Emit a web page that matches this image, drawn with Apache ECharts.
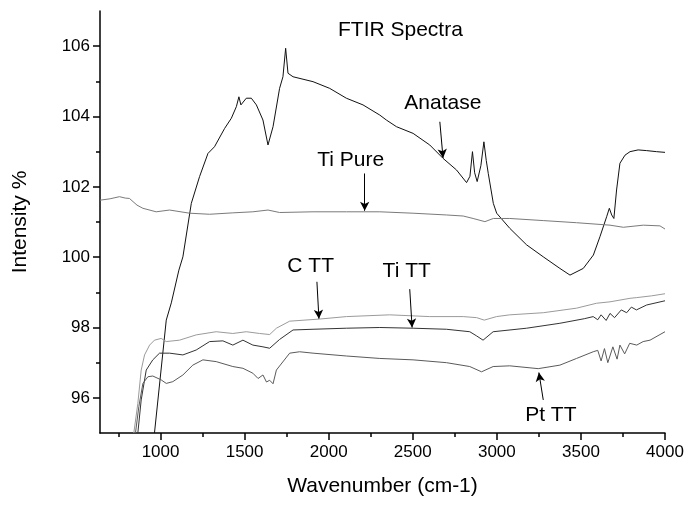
<!DOCTYPE html>
<html>
<head>
<meta charset="utf-8">
<script src="https://cdn.jsdelivr.net/npm/echarts@6.0.0/dist/echarts.min.js"></script>
<style>
  html, body { margin: 0; padding: 0; background: #fff; }
  #chart { width: 688px; height: 507px; }
</style>
</head>
<body>
<div id="chart"></div>
<script>
// values: [wavenumber, intensity %]
const anatasePts = [
  [964, 95.0], [1034, 98.21], [1064, 98.7], [1109, 99.63], [1133, 100.01], [1183, 101.53],
  [1232, 102.29], [1282, 102.95], [1321, 103.14], [1381, 103.66], [1421, 103.95], [1451, 104.28],
  [1466, 104.56], [1478, 104.33], [1510, 104.52], [1540, 104.52], [1570, 104.33], [1609, 103.9],
  [1639, 103.19], [1669, 103.71], [1708, 104.8], [1728, 105.13], [1744, 105.94], [1758, 105.23],
  [1788, 105.13], [1907, 104.99], [2006, 104.8], [2105, 104.52], [2204, 104.33], [2304, 104.04],
  [2343, 103.9], [2403, 103.71], [2502, 103.52], [2601, 103.19], [2680, 102.81], [2760, 102.48],
  [2820, 102.12], [2840, 102.3], [2855, 103.0], [2868, 102.4], [2883, 102.15], [2905, 102.6],
  [2923, 103.28], [2937, 102.75], [2949, 102.38], [2979, 101.53], [2999, 101.25], [3077, 100.82],
  [3177, 100.35], [3276, 100.01], [3375, 99.68], [3435, 99.49], [3514, 99.68], [3574, 100.06],
  [3613, 100.58], [3653, 101.15], [3669, 101.39], [3683, 101.2], [3696, 101.1], [3712, 101.91],
  [3732, 102.67], [3762, 102.9], [3792, 103.0], [3840, 103.05], [3891, 103.03], [3950, 103.0],
  [4000, 102.98]
];
const tiPurePts = [
  [640, 101.62], [700, 101.66], [756, 101.72], [790, 101.68], [815, 101.67], [860, 101.48],
  [895, 101.39], [974, 101.29], [1054, 101.34], [1173, 101.25], [1292, 101.22], [1430, 101.26],
  [1549, 101.29], [1639, 101.34], [1708, 101.27], [1907, 101.29], [2105, 101.29], [2304, 101.29],
  [2502, 101.25], [2700, 101.2], [2800, 101.17], [2859, 101.1], [2929, 101.01], [2979, 101.1],
  [3077, 101.1], [3276, 101.04], [3474, 100.98], [3673, 100.91], [3752, 100.85], [3871, 100.91],
  [3970, 100.89], [4000, 100.8]
];
const cTTPts = [
  [841, 95.0], [865, 95.84], [885, 96.79], [905, 97.22], [935, 97.5], [964, 97.64], [1004, 97.69],
  [1034, 97.6], [1113, 97.64], [1212, 97.79], [1331, 97.88], [1430, 97.83], [1510, 97.88],
  [1589, 97.83], [1649, 97.8], [1689, 97.98], [1768, 98.18], [1946, 98.24], [2105, 98.31],
  [2363, 98.36], [2601, 98.31], [2800, 98.31], [2880, 98.28], [2925, 98.21], [2998, 98.31],
  [3077, 98.36], [3276, 98.42], [3474, 98.55], [3593, 98.69], [3673, 98.73], [3792, 98.83],
  [3832, 98.85], [3920, 98.9], [4000, 98.96]
];
const tiTTPts = [
  [865, 95.0], [885, 95.94], [915, 96.79], [954, 97.08], [994, 97.27], [1054, 97.27], [1133, 97.22],
  [1212, 97.36], [1292, 97.6], [1371, 97.62], [1430, 97.5], [1490, 97.64], [1549, 97.5],
  [1609, 97.45], [1649, 97.41], [1708, 97.66], [1788, 97.93], [1907, 97.95], [2105, 97.98],
  [2304, 98.0], [2502, 97.98], [2700, 97.95], [2839, 97.88], [2880, 97.76], [2918, 97.64],
  [2978, 97.88], [3177, 97.98], [3375, 98.12], [3520, 98.25], [3573, 98.31], [3600, 98.22],
  [3620, 98.36], [3650, 98.2], [3673, 98.4], [3700, 98.28], [3740, 98.5], [3772, 98.42],
  [3800, 98.58], [3830, 98.5], [3891, 98.64], [4000, 98.76]
];
const ptTTPts = [
  [851, 95.0], [871, 95.75], [895, 96.41], [925, 96.6], [954, 96.62], [1004, 96.51], [1034, 96.41],
  [1073, 96.46], [1133, 96.65], [1192, 96.93], [1252, 97.08], [1331, 97.03], [1430, 96.89],
  [1490, 96.84], [1549, 96.7], [1580, 96.55], [1609, 96.65], [1630, 96.45], [1649, 96.5],
  [1669, 96.4], [1689, 96.79], [1768, 97.27], [1827, 97.31], [1907, 97.27], [2105, 97.19],
  [2304, 97.12], [2502, 97.08], [2700, 97.0], [2839, 96.89], [2909, 96.74], [2978, 96.89],
  [3077, 96.91], [3246, 96.83], [3375, 96.93], [3474, 97.12], [3573, 97.31], [3600, 97.35],
  [3620, 97.05], [3640, 97.4], [3660, 97.0], [3690, 97.45], [3715, 97.1], [3732, 97.5],
  [3760, 97.25], [3790, 97.55], [3832, 97.5], [3870, 97.6], [3911, 97.64], [4000, 97.88]
];

const seriesNames = ['Anatase', 'Ti Pure', 'C TT', 'Ti TT', 'Pt TT'];
const seriesColors = ['#111111', '#7a7a7a', '#9a9a9a', '#333333', '#5a5a5a'];

// annotation text position, arrow start and arrow tip, per series
const labelAt = [[2679, 104.38], [2131, 102.76], [1893, 99.75], [2464, 99.61], [3321, 95.51]];
const arrowFrom = [[2661, 103.85], [2214, 102.38], [1930, 99.3], [2482, 99.09], [3276, 95.94]];
const arrowTo = [[2680, 102.82], [2214, 101.32], [1942, 98.25], [2496, 98.0], [3250, 96.72]];

const xLabelTicks = [1000, 1500, 2000, 2500, 3000, 3500, 4000];
const xMinorTicks = [750, 1250, 1750, 2250, 2750, 3250, 3750];
const yLabelTicks = [96, 98, 100, 102, 104, 106];
const yMinorTicks = [97, 99, 101, 103, 105];

const FONT = '"Liberation Sans", Arial, sans-serif';
const allPts = [anatasePts, tiPurePts, cTTPts, tiTTPts, ptTTPts];

const chart = echarts.init(document.getElementById('chart'), null, { renderer: 'canvas' });

const series = allPts.map((pts, i) => ({
  name: seriesNames[i],
  type: 'line',
  xAxisIndex: 0,
  yAxisIndex: 0,
  data: pts,
  showSymbol: false,
  symbol: 'none',
  lineStyle: { color: seriesColors[i], width: 1 },
  markLine: {
    silent: true,
    symbol: ['none', 'arrow'],
    symbolSize: [7, 9],
    lineStyle: { color: '#000', width: 1, type: 'solid' },
    label: { show: false },
    data: [[{ coord: arrowFrom[i] }, { coord: arrowTo[i] }]]
  },
  markPoint: {
    silent: true,
    symbol: 'circle',
    symbolSize: 1,
    itemStyle: { color: 'rgba(0,0,0,0)' },
    label: {
      show: true,
      position: 'inside',
      color: '#000',
      fontSize: 21,
      fontFamily: FONT,
      formatter: seriesNames[i]
    },
    data: [{ coord: labelAt[i] }]
  }
}));

const axisBase = {
  type: 'value',
  splitLine: { show: false },
  axisLine: { show: true, onZero: false, lineStyle: { color: '#000', width: 1.5 } }
};

const plain = (v) => String(v);

chart.setOption({
  animation: false,
  backgroundColor: '#fff',
  title: {
    text: 'FTIR Spectra',
    left: 333,
    top: 15,
    textStyle: { color: '#000', fontSize: 21, fontWeight: 'normal', fontFamily: FONT }
  },
  grid: { left: 100, right: 23, top: 11, bottom: 74 },
  xAxis: [
    {
      ...axisBase,
      position: 'bottom',
      min: 640,
      max: 4000,
      name: 'Wavenumber (cm-1)',
      nameLocation: 'middle',
      nameGap: 43,
      nameTextStyle: { color: '#000', fontSize: 21, fontFamily: FONT },
      axisTick: { show: true, length: 7, customValues: xLabelTicks, lineStyle: { color: '#000', width: 1.5 } },
      axisLabel: { color: '#000', fontSize: 17, fontFamily: FONT, margin: 11, customValues: xLabelTicks, formatter: plain }
    },
    {
      ...axisBase,
      position: 'bottom',
      offset: 0,
      min: 640,
      max: 4000,
      axisLine: { show: false },
      axisTick: { show: true, length: 4, customValues: xMinorTicks, lineStyle: { color: '#000', width: 1.5 } },
      axisLabel: { show: false }
    }
  ],
  yAxis: [
    {
      ...axisBase,
      position: 'left',
      min: 95,
      max: 107,
      name: 'Intensity %',
      nameLocation: 'middle',
      nameGap: 69,
      nameTextStyle: { color: '#000', fontSize: 21, fontFamily: FONT },
      axisTick: { show: true, length: 7, customValues: yLabelTicks, lineStyle: { color: '#000', width: 1.5 } },
      axisLabel: { color: '#000', fontSize: 17, fontFamily: FONT, margin: 10, customValues: yLabelTicks, formatter: plain }
    },
    {
      ...axisBase,
      position: 'left',
      offset: 0,
      min: 95,
      max: 107,
      axisLine: { show: false },
      axisTick: { show: true, length: 4, customValues: yMinorTicks, lineStyle: { color: '#000', width: 1.5 } },
      axisLabel: { show: false }
    }
  ],
  series
});
</script>
</body>
</html>
